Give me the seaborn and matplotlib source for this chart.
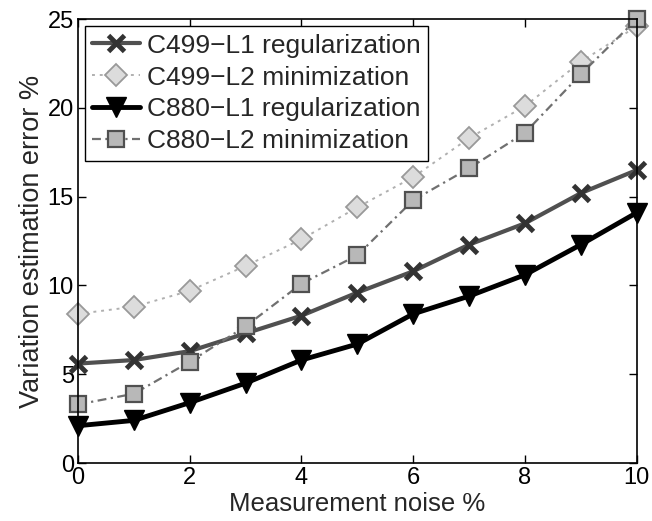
import numpy as np
import pandas as pd
import matplotlib
matplotlib.use("Agg")
import matplotlib.pyplot as plt
import seaborn as sns

noise = [0, 1, 2, 3, 4, 5, 6, 7, 8, 9, 10]
c499_l1 = [5.6, 5.8, 6.3, 7.3, 8.3, 9.6, 10.8, 12.3, 13.5, 15.2, 16.5]
c499_l2 = [8.4, 8.8, 9.7, 11.1, 12.6, 14.4, 16.1, 18.3, 20.1, 22.6, 24.6]
c880_l1 = [2.1, 2.4, 3.4, 4.5, 5.8, 6.7, 8.4, 9.4, 10.6, 12.3, 14.1]
c880_l2 = [3.3, 3.9, 5.7, 7.7, 10.1, 11.7, 14.8, 16.6, 18.6, 21.9, 25.0]
labels = ["C499\u2212L1 regularization", "C499\u2212L2 minimization",
          "C880\u2212L1 regularization", "C880\u2212L2 minimization"]

sns.set_theme(style="ticks")
plt.rcParams['font.family'] = ['Liberation Sans', 'DejaVu Sans']

fig = plt.figure(figsize=(6.52, 5.21), dpi=100)
ax = fig.add_axes([0.1196, 0.1113, 0.857, 0.852])

styles = [
    dict(color="#505050", lw=3.0, ls="-", marker="x", ms=12, mew=3.5, mfc="#444444", mec="#333333"),
    dict(color="#b0b0b0", lw=1.4, ls=(0, (1.5, 2.5)), marker="D", ms=11, mew=1.3, mfc="#dcdcdc", mec="#999999"),
    dict(color="#000000", lw=3.5, ls="-", marker="v", ms=15, mew=1, mfc="#000000", mec="#000000"),
    dict(color="#707070", lw=1.6, ls=(0, (4, 2, 1, 2)), marker="s", ms=11, mew=1.6, mfc="#b8b8b8", mec="#505050"),
]
series = [c499_l1, c499_l2, c880_l1, c880_l2]
for vals, lab, st in zip(series, labels, styles):
    df = pd.DataFrame({"x": noise, "y": vals})
    sns.lineplot(data=df, x="x", y="y", ax=ax, label=lab, color=st["color"],
                 linewidth=st["lw"], linestyle=st["ls"], marker=st["marker"],
                 markersize=st["ms"], markeredgewidth=st["mew"],
                 markerfacecolor=st["mfc"], markeredgecolor=st["mec"], clip_on=False)

ax.set_xlim(0, 10)
ax.set_ylim(0, 25)
ax.set_xticks([0, 2, 4, 6, 8, 10])
ax.set_yticks([0, 5, 10, 15, 20, 25])
ax.set_xlabel("Measurement noise %", fontsize=18.5, labelpad=2)
ax.set_ylabel("Variation estimation error %", fontsize=19.5, labelpad=2)
ax.tick_params(axis="both", labelsize=17, direction="in", length=6, width=1,
               top=True, right=True, colors="black", pad=3)
for s in ax.spines.values():
    s.set_visible(True)
    s.set_color("black")
    s.set_linewidth(1.2)

leg = ax.legend(loc="upper left", fontsize=19, frameon=True, fancybox=False,
                edgecolor="black", framealpha=1, borderaxespad=0.25,
                handlelength=1.8, handletextpad=0.25, labelspacing=0.3, borderpad=0.3)
leg.get_frame().set_linewidth(1.0)

fig.savefig("out.png", dpi=100)
